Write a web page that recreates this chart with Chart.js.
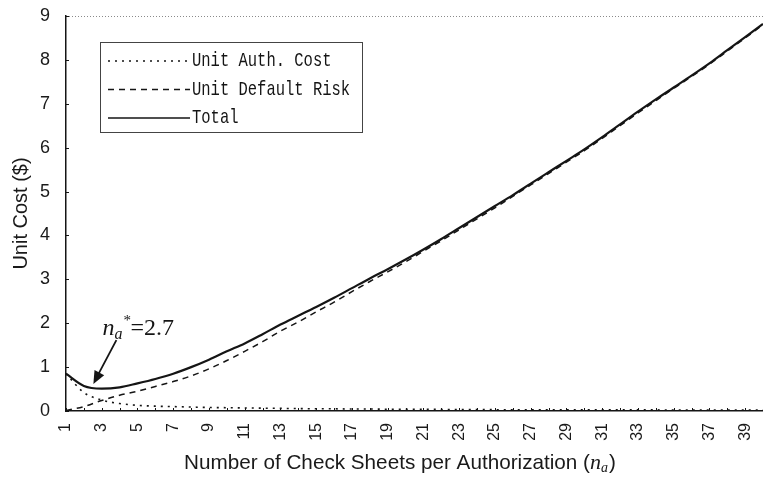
<!DOCTYPE html>
<html>
<head>
<meta charset="utf-8">
<script src="https://cdn.jsdelivr.net/npm/chart.js@4.4.1/dist/chart.umd.min.js"></script>
<style>
  html, body { margin: 0; padding: 0; background: #fff; }
  #wrap { width: 763px; height: 481px; position: relative; }
</style>
</head>
<body>
<div id="wrap"><canvas id="costChart"></canvas></div>
<script>
// number of check sheets per authorization
const sheets = [1, 2, 3, 4, 5, 6, 7, 8, 9, 10, 11, 12, 13, 14, 15, 16, 17, 18, 19, 20,
                21, 22, 23, 24, 25, 26, 27, 28, 29, 30, 31, 32, 33, 34, 35, 36, 37, 38, 39, 40];

// values ($)
const authCost = [0.85, 0.42, 0.25, 0.17, 0.13, 0.11, 0.10, 0.09, 0.08, 0.075,
                  0.07, 0.065, 0.06, 0.055, 0.05, 0.05, 0.045, 0.045, 0.04, 0.04,
                  0.04, 0.035, 0.035, 0.035, 0.03, 0.03, 0.03, 0.03, 0.03, 0.025,
                  0.025, 0.025, 0.025, 0.025, 0.02, 0.02, 0.02, 0.02, 0.02, 0.02];
const defaultRisk = [0.01, 0.10, 0.24, 0.36, 0.45, 0.56, 0.67, 0.80, 0.96, 1.15,
                     1.36, 1.58, 1.82, 2.03, 2.26, 2.48, 2.72, 2.95, 3.17, 3.40,
                     3.64, 3.88, 4.13, 4.38, 4.63, 4.89, 5.15, 5.41, 5.67, 5.93,
                     6.21, 6.50, 6.79, 7.07, 7.35, 7.62, 7.90, 8.20, 8.50, 8.80];
const totalCost = [0.85, 0.57, 0.51, 0.54, 0.63, 0.73, 0.85, 1.00, 1.17, 1.36,
                   1.54, 1.75, 1.97, 2.17, 2.37, 2.58, 2.80, 3.02, 3.23, 3.45,
                   3.68, 3.92, 4.17, 4.42, 4.67, 4.92, 5.18, 5.44, 5.70, 5.96,
                   6.24, 6.53, 6.82, 7.10, 7.37, 7.64, 7.92, 8.22, 8.52, 8.82];
const yTicks = [0, 1, 2, 3, 4, 5, 6, 7, 8, 9];

const seriesNames = ['Unit Auth. Cost', 'Unit Default Risk', 'Total'];
const optimumSheets = 2.7;
const optimumCost = 0.5;

const ink = '#151515';
const dashes = [[2, 5], [6, 5], []];

// legend, inward ticks, top frame, annotation and x title
const overlay = {
  id: 'overlay',
  afterDraw(chart) {
    const { ctx, chartArea: a, scales: { x, y } } = chart;
    ctx.save();

    // dotted top frame
    ctx.strokeStyle = '#8a8a8a';
    ctx.lineWidth = 1;
    ctx.setLineDash([1, 2]);
    ctx.beginPath();
    ctx.moveTo(a.left, a.top + 0.5);
    ctx.lineTo(a.right, a.top + 0.5);
    ctx.stroke();
    ctx.setLineDash([]);

    // small inward tick marks
    ctx.strokeStyle = ink;
    ctx.beginPath();
    sheets.forEach((s, i) => {
      const px = Math.round(x.getPixelForTick(i)) + 0.5;
      ctx.moveTo(px, a.bottom);
      ctx.lineTo(px, a.bottom - 3);
    });
    yTicks.forEach(v => {
      const py = Math.round(y.getPixelForValue(v)) + 0.5;
      ctx.moveTo(a.left, py);
      ctx.lineTo(a.left + 3, py);
    });
    ctx.stroke();

    // legend box
    const bx = a.left + 34, by = a.top + 26, bw = 262, bh = 90;
    ctx.fillStyle = '#fff';
    ctx.fillRect(bx, by, bw, bh);
    ctx.strokeStyle = '#444';
    ctx.lineWidth = 1;
    ctx.strokeRect(bx + 0.5, by + 0.5, bw, bh);
    ctx.font = '15.5px "Liberation Mono", "DejaVu Sans Mono", monospace';
    ctx.textBaseline = 'middle';
    ctx.fillStyle = ink;
    seriesNames.forEach((name, i) => {
      const ry = by + 19 + i * 28.5;
      ctx.strokeStyle = ink;
      ctx.lineWidth = i === 2 ? 1.6 : 1.3;
      ctx.setLineDash(dashes[i]);
      ctx.beginPath();
      ctx.moveTo(bx + 8, ry);
      ctx.lineTo(bx + 90, ry);
      ctx.stroke();
      ctx.setLineDash([]);
      ctx.save();
      ctx.translate(bx + 92, ry);
      ctx.scale(1, 1.25);
      ctx.fillText(name, 0, 0);
      ctx.restore();
    });

    // optimum annotation with arrow
    const tipX = x.getPixelForValue(optimumSheets - 1) - 3;
    const tipY = y.getPixelForValue(optimumCost) - 5;
    const startX = tipX + 23, startY = tipY - 44;
    ctx.strokeStyle = ink;
    ctx.fillStyle = ink;
    ctx.lineWidth = 1.8;
    ctx.beginPath();
    ctx.moveTo(startX, startY);
    ctx.lineTo(tipX + 5, tipY - 10);
    ctx.stroke();
    const ang = Math.atan2(tipY - startY, tipX - startX);
    ctx.beginPath();
    ctx.moveTo(tipX, tipY);
    ctx.lineTo(tipX - 14 * Math.cos(ang - 0.4), tipY - 14 * Math.sin(ang - 0.4));
    ctx.lineTo(tipX - 14 * Math.cos(ang + 0.4), tipY - 14 * Math.sin(ang + 0.4));
    ctx.closePath();
    ctx.fill();

    let tx = tipX + 9;
    const tBase = tipY - 49;
    ctx.textBaseline = 'alphabetic';
    ctx.textAlign = 'left';
    ctx.font = 'italic 24px "Liberation Serif", serif';
    ctx.fillText('n', tx, tBase);
    tx += ctx.measureText('n').width;
    ctx.font = 'italic 16px "Liberation Serif", serif';
    ctx.fillText('a', tx, tBase + 4);
    ctx.font = '15px "Liberation Serif", serif';
    ctx.fillText('*', tx + 9, tBase - 10);
    tx += 16;
    ctx.font = '24px "Liberation Serif", serif';
    ctx.fillText('=2.7', tx, tBase);

    // x axis title with italic n_a
    const part1 = 'Number of Check Sheets per Authorization (';
    const sans = '20.7px "Liberation Sans", Arial, sans-serif';
    ctx.font = sans;
    const w1 = ctx.measureText(part1).width;
    ctx.font = 'italic 22px "Liberation Serif", serif';
    const wn = ctx.measureText('n').width;
    ctx.font = 'italic 14px "Liberation Serif", serif';
    const wa = ctx.measureText('a').width;
    ctx.font = sans;
    const wc = ctx.measureText(')').width;
    const total = w1 + wn + wa + wc;
    let cx = (a.left + a.right) / 2 - 15 - total / 2;
    const base = chart.height - 12;
    ctx.fillStyle = '#1a1a1a';
    ctx.fillText(part1, cx, base);
    cx += w1;
    ctx.font = 'italic 22px "Liberation Serif", serif';
    ctx.fillText('n', cx, base);
    cx += wn;
    ctx.font = 'italic 14px "Liberation Serif", serif';
    ctx.fillText('a', cx, base + 3);
    cx += wa + 1;
    ctx.font = sans;
    ctx.fillText(')', cx, base);

    ctx.restore();
  }
};

const costChart = new Chart(document.getElementById('costChart'), {
  type: 'line',
  data: {
    labels: sheets,
    datasets: [
      { label: seriesNames[0], data: authCost, borderColor: ink, borderWidth: 1.6, borderDash: dashes[0] },
      { label: seriesNames[1], data: defaultRisk, borderColor: ink, borderWidth: 1.5, borderDash: dashes[1] },
      { label: seriesNames[2], data: totalCost, borderColor: ink, borderWidth: 2.2 }
    ]
  },
  options: {
    responsive: true,
    maintainAspectRatio: false,
    animation: false,
    layout: { padding: { top: 16, right: 0, left: 0, bottom: 0 } },
    elements: {
      point: { radius: 0 },
      line: { cubicInterpolationMode: 'monotone', fill: false }
    },
    plugins: {
      legend: { display: false },
      tooltip: { enabled: false }
    },
    scales: {
      x: {
        grid: { display: false, drawTicks: false },
        border: { display: true, color: ink, width: 1.5 },
        ticks: {
          autoSkip: false,
          minRotation: 90,
          maxRotation: 90,
          padding: 12,
          color: '#1a1a1a',
          font: { family: '"Liberation Sans", Arial, sans-serif', size: 16 },
          callback: (val, i) => (i % 2 === 0 ? String(sheets[i]) : '')
        },
        afterFit: scale => {
          scale.height = 70;
          scale.paddingLeft = 0;
          scale.paddingRight = 0;
        }
      },
      y: {
        min: 0,
        max: 9,
        grid: { display: false, drawTicks: false },
        border: { display: true, color: ink, width: 1.5 },
        ticks: {
          stepSize: 1,
          padding: 16,
          color: '#1a1a1a',
          font: { family: '"Liberation Sans", Arial, sans-serif', size: 18 }
        },
        title: {
          display: true,
          text: 'Unit Cost ($)',
          color: '#1a1a1a',
          padding: { top: 9, bottom: 0 },
          font: { family: '"Liberation Sans", Arial, sans-serif', size: 20 }
        },
        afterFit: scale => {
          scale.width = 66;
          scale.paddingTop = 0;
          scale.paddingBottom = 0;
        }
      }
    }
  },
  plugins: [overlay]
});
</script>
</body>
</html>
